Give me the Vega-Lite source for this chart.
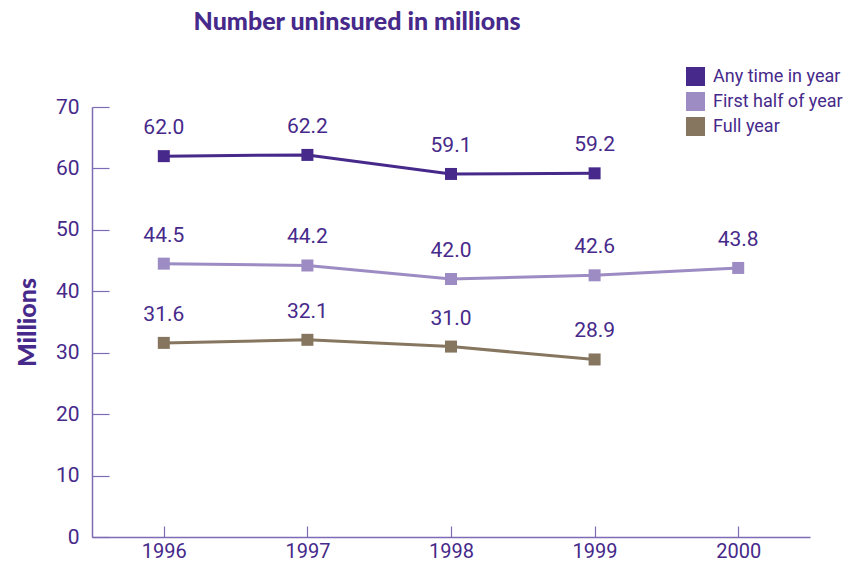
{
  "$schema": "https://vega.github.io/schema/vega-lite/v6.json",
  "width": 718,
  "height": 430,
  "autosize": "none",
  "padding": {"left": 92, "top": 107, "right": 38, "bottom": 25},
  "background": "white",
  "config": {"view": {"stroke": null}},
  "title": {
    "text": "Number uninsured in millions",
    "anchor": "middle",
    "frame": "group",
    "dx": -94,
    "offset": 32,
    "font": "Lato",
    "fontSize": 25,
    "fontWeight": 900,
    "color": "#46298a"
  },
  "data": {
    "values": [
      {"year": "1996", "series": "Any time in year", "value": 62.0},
      {"year": "1997", "series": "Any time in year", "value": 62.2},
      {"year": "1998", "series": "Any time in year", "value": 59.1},
      {"year": "1999", "series": "Any time in year", "value": 59.2},
      {"year": "1996", "series": "First half of year", "value": 44.5},
      {"year": "1997", "series": "First half of year", "value": 44.2},
      {"year": "1998", "series": "First half of year", "value": 42.0},
      {"year": "1999", "series": "First half of year", "value": 42.6},
      {"year": "2000", "series": "First half of year", "value": 43.8},
      {"year": "1996", "series": "Full year", "value": 31.6},
      {"year": "1997", "series": "Full year", "value": 32.1},
      {"year": "1998", "series": "Full year", "value": 31.0},
      {"year": "1999", "series": "Full year", "value": 28.9}
    ]
  },
  "encoding": {
    "x": {
      "field": "year",
      "type": "ordinal",
      "scale": {"type": "point", "padding": 0.5},
      "axis": {
        "title": null,
        "labelAngle": 0,
        "labelFont": "Roboto",
        "labelFontSize": 20,
        "labelColor": "#46298a",
        "labelPadding": 15,
        "tickSize": -11,
        "tickColor": "#7d6bb5",
        "domainColor": "#7d6bb5",
        "domainWidth": 1.5,
        "tickWidth": 1.2,
        "grid": false
      }
    },
    "y": {
      "field": "value",
      "type": "quantitative",
      "scale": {"domain": [0, 70], "nice": false, "zero": true},
      "axis": {
        "title": "Millions",
        "titleFont": "Lato",
        "titleFontSize": 25,
        "titleFontWeight": 900,
        "titleColor": "#46298a",
        "titlePadding": 15,
        "values": [0, 10, 20, 30, 40, 50, 60, 70],
        "labelFont": "Roboto",
        "labelFontSize": 21,
        "labelColor": "#46298a",
        "labelPadding": 30,
        "tickSize": -17,
        "tickColor": "#7d6bb5",
        "domainColor": "#7d6bb5",
        "domainWidth": 1.5,
        "tickWidth": 1.2,
        "grid": false
      }
    },
    "color": {
      "field": "series",
      "type": "nominal",
      "sort": ["Any time in year", "First half of year", "Full year"],
      "scale": {
        "domain": ["Any time in year", "First half of year", "Full year"],
        "range": ["#46298a", "#9c8cc3", "#86765f"]
      },
      "legend": {
        "title": null,
        "orient": "none",
        "legendX": 594,
        "legendY": -40,
        "symbolType": "square",
        "symbolSize": 361,
        "symbolStrokeWidth": 0,
        "labelFont": "Roboto",
        "labelFontSize": 18,
        "labelColor": "#46298a",
        "rowPadding": 6,
        "labelOffset": 8
      }
    }
  },
  "layer": [
    {
      "mark": {
        "type": "line",
        "strokeWidth": 3,
        "point": {"shape": "square", "size": 144, "filled": true, "opacity": 1}
      },
      "encoding": {"detail": {"field": "series"}}
    },
    {
      "mark": {
        "type": "text",
        "dy": -18,
        "baseline": "bottom",
        "font": "Roboto",
        "fontSize": 21,
        "color": "#46298a"
      },
      "encoding": {
        "text": {"field": "value", "type": "quantitative", "format": ".1f"},
        "color": {"value": "#46298a"}
      }
    }
  ]
}
